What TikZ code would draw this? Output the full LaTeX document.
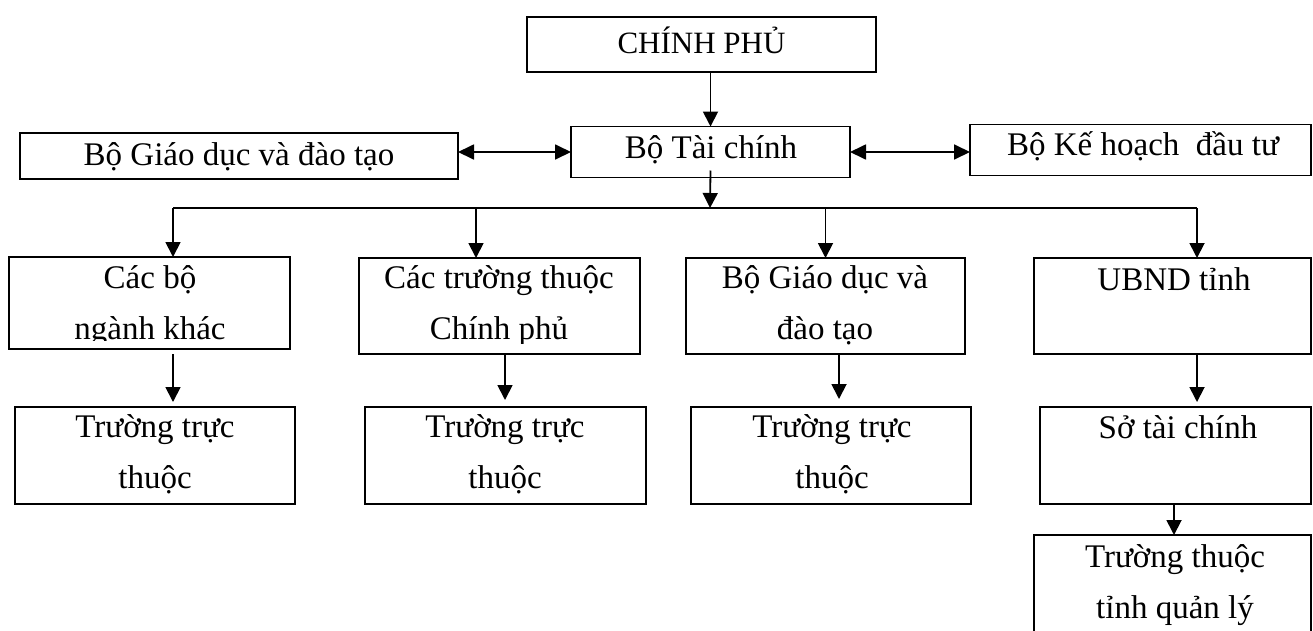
\documentclass[tikz,border=0pt]{standalone}
\usepackage{fontspec}
\setmainfont{Liberation Serif}
\usetikzlibrary{arrows.meta}
% two centred lines whose baseline is that of the first line
\newcommand\stackedtext[2]{\parbox[t]{300pt}{\centering #1\\#2}}
\begin{document}
\begin{tikzpicture}[x=1pt,y=-1pt,
  box/.style={draw, line width=1.9pt, rectangle, inner sep=0pt, outer sep=0pt},
  txt/.style={anchor=base, inner sep=0pt, font=\fontsize{33}{51}\selectfont},
  arr/.style={line width=1.8pt, -{Triangle[length=15pt,width=15pt]}},
  darr/.style={line width=1.8pt,
    {Triangle[length=16pt,width=15pt]}-{Triangle[length=16pt,width=15pt]}},
]
\clip (0,0) rectangle (1313,630);

% top level
\node[box, minimum width=349pt, minimum height=55pt] (gov)  at (701.5,44.5) {};
\node[box, minimum width=438pt, minimum height=46pt] (edu)  at (239,156) {};
\node[box, minimum width=279pt, minimum height=51pt] (fin)  at (710.5,152) {};
\node[box, minimum width=341pt, minimum height=51pt] (plan) at (1140.5,150) {};

\node[txt, font=\fontsize{31}{51}\selectfont] (tgov) at (701.5,53) {CHÍNH PHỦ};
\node[txt] (tedu)  at (239,165) {Bộ Giáo dục và đào tạo};
\node[txt] (tfin)  at (711,158) {Bộ Tài chính};
\node[txt] (tplan) at (1143,155) {Bộ Kế hoạch\ \ đầu tư};

% second row
\node[box, minimum width=281pt, minimum height=92pt] (ra) at (149.5,303) {};
\node[box, minimum width=281pt, minimum height=96pt] (rb) at (499.5,306) {};
\node[box, minimum width=279pt, minimum height=96pt] (rc) at (825.5,306) {};
\node[box, minimum width=277pt, minimum height=96pt] (rd) at (1172.5,306) {};

\begin{scope}
  \clip (0,0) rectangle (330,340);
  \node[txt] (tra) at (150,288) {\stackedtext{Các bộ}{ngành khác}};
\end{scope}
\begin{scope}
  \clip (330,0) rectangle (670,343);
  \node[txt] (trb) at (499,288) {\stackedtext{Các trường thuộc}{Chính phủ}};
\end{scope}
\begin{scope}
  \clip (670,0) rectangle (1000,345);
  \node[txt] (trc) at (825,288) {\stackedtext{Bộ Giáo dục và}{đào tạo}};
\end{scope}
\node[txt] (trd) at (1174,290) {UBND tỉnh};

% third row
\node[box, minimum width=280pt, minimum height=97pt] (sa) at (155,455.5) {};
\node[box, minimum width=281pt, minimum height=97pt] (sb) at (505.5,455.5) {};
\node[box, minimum width=280pt, minimum height=97pt] (sc) at (831,455.5) {};
\node[box, minimum width=271pt, minimum height=97pt] (sd) at (1175.5,455.5) {};

\node[txt] (tsa) at (155,437) {\stackedtext{Trường trực}{thuộc}};
\node[txt] (tsb) at (505,437) {\stackedtext{Trường trực}{thuộc}};
\node[txt] (tsc) at (832,437) {\stackedtext{Trường trực}{thuộc}};
\node[txt] (tsd) at (1178,438) {Sở tài chính};

% bottom box, running past the lower edge
\node[box, minimum width=277pt, minimum height=120pt] (pa) at (1172.5,595) {};
\node[txt] (tpa) at (1175,567) {\stackedtext{Trường thuộc}{tỉnh quản lý}};

% connectors
\draw[arr] (gov.south -| fin.north) -- (fin.north);
\draw[darr] (edu.east |- fin.west) -- (fin.west);
\draw[darr] (fin.east) -- (fin.east -| plan.west);

\coordinate (bus) at (710,208);
\coordinate (d1) at (173,208);
\coordinate (d2) at (476,208);
\coordinate (d3) at (825.5,208);
\coordinate (d4) at (1197,208);
\draw[arr] ([yshift=7pt]fin.south) -- (bus);
\draw[line width=1.8pt] (d1) -- (d4);
\draw[arr] (d1) -- (d1 |- ra.north);
\draw[arr] (d2) -- (d2 |- rb.north);
\draw[arr] (d3) -- (d3 |- rc.north);
\draw[arr] (d4) -- (d4 |- rd.north);

\draw[arr, shorten <=5pt, shorten >=5pt] (ra.south -| d1) -- (sa.north -| d1);
\draw[arr, shorten >=7pt] (rb.south -| 505,0) -- (sb.north -| 505,0);
\draw[arr, shorten >=8pt] (rc.south -| 839,0) -- (sc.north -| 839,0);
\draw[arr, shorten >=5pt] (rd.south -| d4) -- (sd.north -| d4);
\draw[arr] (sd.south -| 1174,0) -- (pa.north -| 1174,0);
\end{tikzpicture}
\end{document}
